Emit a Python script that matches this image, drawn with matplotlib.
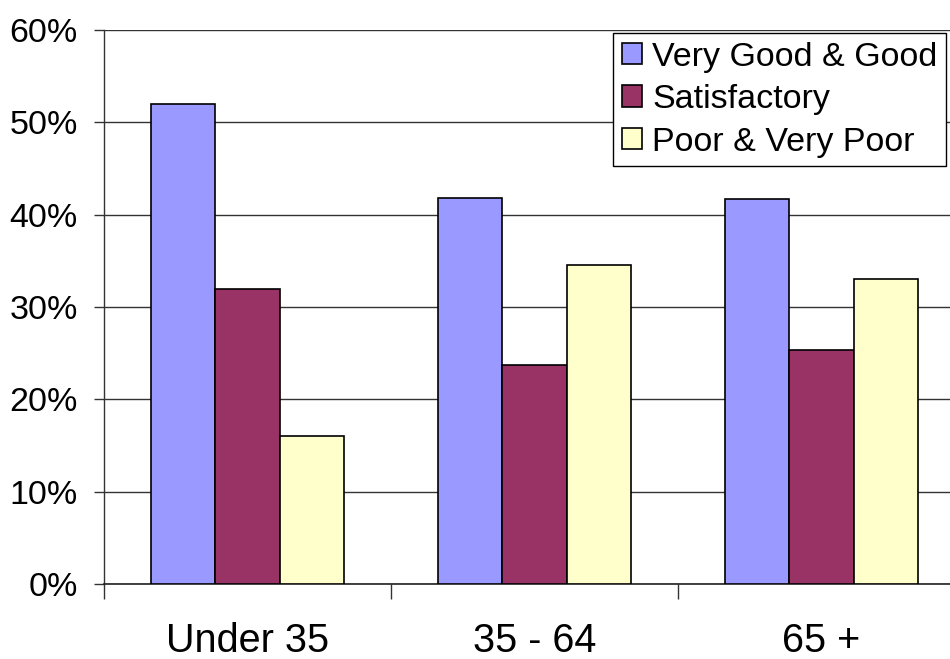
import matplotlib
matplotlib.use("Agg")
import matplotlib.pyplot as plt
import numpy as np
from matplotlib.ticker import FuncFormatter

plt.rcParams['font.family'] = ['Liberation Sans', 'DejaVu Sans']

categories = ["Under 35", "35 - 64", "65 +"]
series_names = ["Very Good & Good", "Satisfactory", "Poor & Very Poor"]
very_good = [52.0, 41.8, 41.7]
satisfactory = [32.0, 23.7, 25.3]
poor = [16.0, 34.5, 33.0]
colors = ["#9999FF", "#993366", "#FFFFCC"]
y_ticks = [0, 10, 20, 30, 40, 50, 60]

fig = plt.figure(figsize=(9.5, 6.59), dpi=100)
ax = fig.add_axes([104 / 950, 75 / 659, 861 / 950, 554 / 659])

x = np.arange(len(categories))
width = 0.223
for i, (vals, name, col) in enumerate(zip([very_good, satisfactory, poor], series_names, colors)):
    ax.bar(x + (i - 1) * width, vals, width, color=col, edgecolor="black",
           linewidth=1.2, label=name, zorder=3)

ax.set_xlim(-0.5, 2.5)
ax.set_ylim(0, 60)
ax.set_yticks(y_ticks)
ax.yaxis.set_major_formatter(FuncFormatter(lambda v, p: f"{v:.0f}%"))
ax.set_xticks([-0.5, 0.5, 1.5, 2.5])
ax.set_xticklabels([])
ax.set_xticks(x, minor=True)
ax.set_xticklabels(categories, minor=True)

ax.grid(axis="y", color="#333333", linewidth=1.0, zorder=0)
for s in ["top", "right"]:
    ax.spines[s].set_visible(False)
ax.spines["left"].set_color("#333333")
ax.spines["bottom"].set_color("#222222")
ax.spines["left"].set_linewidth(1.0)
ax.spines["bottom"].set_linewidth(1.2)

ax.tick_params(axis="y", which="major", length=7, width=1.0, color="#333333",
               labelsize=24.5, pad=12)
ax.tick_params(axis="x", which="major", length=11, width=1.0, color="#333333")
ax.tick_params(axis="x", which="minor", length=0, labelsize=28.5, pad=27)

leg = ax.legend(loc="upper left", bbox_to_anchor=(613 / 950, 626 / 659),
                bbox_transform=fig.transFigure, fontsize=24.5, frameon=True,
                fancybox=False, shadow=False, borderaxespad=0,
                handlelength=0.6, handleheight=0.6, handletextpad=0.3,
                labelspacing=0.34, borderpad=0.25)
leg.get_frame().set_edgecolor("black")
leg.get_frame().set_linewidth(1.0)
leg.get_frame().set_alpha(1)

fig.savefig("out.png", dpi=100)
